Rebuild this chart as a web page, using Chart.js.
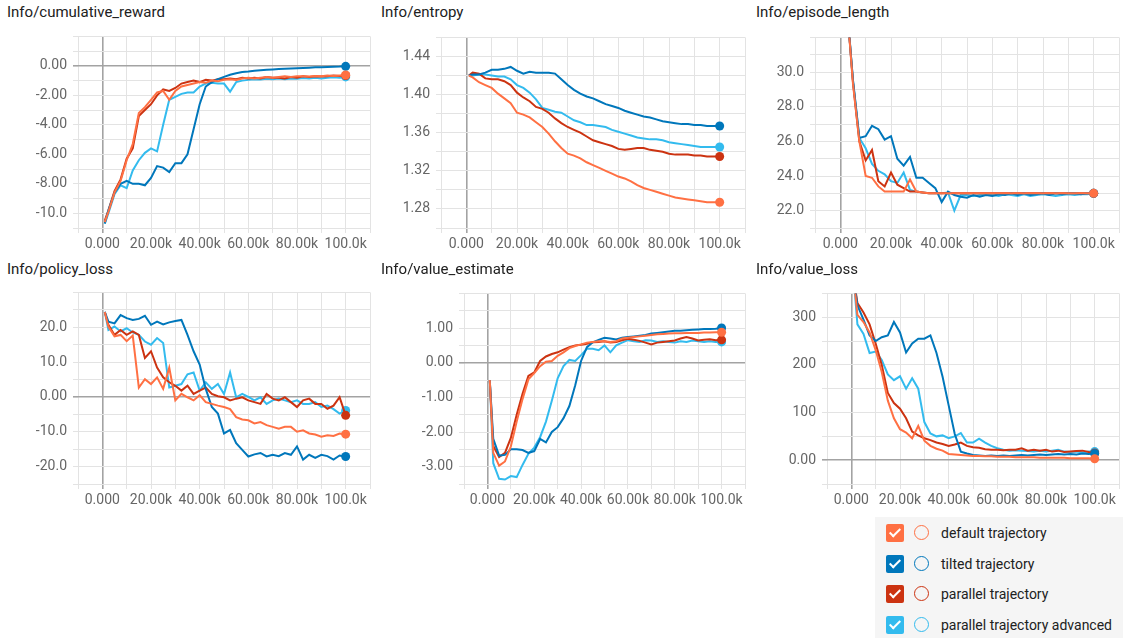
<!DOCTYPE html>
<html>
<head>
<meta charset="utf-8">
<script src="https://cdn.jsdelivr.net/npm/chart.js@4.4.1/dist/chart.umd.min.js"></script>
<style>
  body { margin: 0; width: 1123px; height: 638px; overflow: hidden; background: #fff; font-family: Roboto, "Noto Sans", sans-serif; }
  .title { position: absolute; font-size: 15px; line-height: 15px; color: #212121; white-space: nowrap; }
  canvas { position: absolute; }
  .legend { position: absolute; left: 875px; top: 517px; width: 248px; height: 121px; background: #f5f5f5; }
  .row { position: absolute; left: 0; height: 20px; width: 248px; }
  .box { position: absolute; left: 11px; top: 1px; width: 18px; height: 18px; border-radius: 2px; }
  .box::after { content: ''; position: absolute; left: 6px; top: 2px; width: 4px; height: 9px; border: solid #fff; border-width: 0 2px 2px 0; transform: rotate(45deg); }
  .ring { position: absolute; left: 39px; top: 2px; width: 13px; height: 13px; border-radius: 50%; border: 1.6px solid; }
  .label { position: absolute; left: 66px; top: 0; font-size: 14px; line-height: 20px; color: #212121; white-space: nowrap; }
</style>
</head>
<body>
<div class="legend" id="legend"></div>
<script>
// training steps of each logged point
const steps = [1000, 2500, 5000, 7500, 10000, 12500, 15000, 17500, 20000, 22500,
  25000, 27500, 30000, 32500, 35000, 37500, 40000, 42500, 45000, 47500,
  50000, 52500, 55000, 57500, 60000, 62500, 65000, 67500, 70000, 72500,
  75000, 77500, 80000, 82500, 85000, 87500, 90000, 92500, 95000, 97500, 100000];

const seriesNames = ['default trajectory', 'tilted trajectory', 'parallel trajectory', 'parallel trajectory advanced'];
const seriesColors = ['#ff7043', '#0077bb', '#cc3311', '#33bbee'];

const xTickValues = [0, 20000, 40000, 60000, 80000, 100000];
const xTickLabels = ['0.000', '20.00k', '40.00k', '60.00k', '80.00k', '100.0k'];

// Info/cumulative_reward
const rewardDefault = [-10.6, -9.9, -8.6, -7.8, -6.4, -5.3, -3.2, -2.8, -2.3, -1.8,
  -1.7, -2.3, -1.7, -1.4, -1.3, -1.2, -1.1, -1.15, -1.0, -1.05,
  -0.95, -0.9, -0.95, -0.85, -0.8, -0.85, -0.8, -0.75, -0.8, -0.75,
  -0.7, -0.75, -0.7, -0.7, -0.72, -0.68, -0.7, -0.66, -0.68, -0.65, -0.62];
const rewardTilted = [-10.7, -9.8, -8.6, -8.0, -7.8, -8.0, -8.0, -8.1, -7.6, -6.8,
  -6.9, -7.2, -6.6, -6.6, -6.0, -4.3, -2.6, -1.4, -1.1, -0.9,
  -0.75, -0.6, -0.5, -0.42, -0.38, -0.33, -0.3, -0.27, -0.24, -0.22,
  -0.2, -0.18, -0.16, -0.14, -0.12, -0.1, -0.09, -0.07, -0.06, -0.05, -0.03];
const rewardParallel = [-10.5, -9.8, -8.5, -7.7, -6.3, -5.6, -3.4, -3.0, -2.6, -2.0,
  -1.6, -1.7, -1.5, -1.2, -1.1, -1.0, -1.1, -0.95, -1.0, -0.9,
  -0.9, -0.85, -0.9, -0.8, -0.85, -0.8, -0.85, -0.75, -0.8, -0.8,
  -0.85, -0.75, -0.8, -0.7, -0.75, -0.7, -0.72, -0.7, -0.65, -0.68, -0.65];
const rewardAdvanced = [-10.7, -10.0, -8.7, -8.1, -8.3, -7.1, -6.4, -5.9, -5.6, -5.8,
  -4.0, -2.3, -2.1, -1.9, -1.8, -1.8, -1.4, -1.2, -1.15, -1.2,
  -1.2, -1.75, -1.1, -1.0, -0.95, -0.9, -0.92, -0.88, -0.9, -0.85,
  -0.9, -0.85, -0.88, -0.82, -0.85, -0.8, -0.85, -0.8, -0.78, -0.8, -0.75];
const rewardYTicks = [0, -2, -4, -6, -8, -10];
const rewardYLabels = ['0.00', '-2.00', '-4.00', '-6.00', '-8.00', '-10.0'];

// Info/entropy
const entropyDefault = [1.420, 1.418, 1.413, 1.410, 1.407, 1.401, 1.396, 1.391, 1.381, 1.379,
  1.376, 1.371, 1.366, 1.359, 1.351, 1.344, 1.338, 1.336, 1.333, 1.329,
  1.326, 1.323, 1.320, 1.317, 1.314, 1.312, 1.309, 1.305, 1.302, 1.300,
  1.298, 1.296, 1.294, 1.292, 1.291, 1.290, 1.289, 1.288, 1.287, 1.287, 1.287];
const entropyTilted = [1.420, 1.421, 1.421, 1.423, 1.426, 1.426, 1.427, 1.429, 1.425, 1.422,
  1.424, 1.423, 1.423, 1.423, 1.422, 1.416, 1.410, 1.405, 1.401, 1.398,
  1.396, 1.393, 1.390, 1.388, 1.386, 1.383, 1.381, 1.379, 1.377, 1.376,
  1.374, 1.372, 1.371, 1.370, 1.369, 1.369, 1.368, 1.368, 1.367, 1.367, 1.367];
const entropyParallel = [1.420, 1.423, 1.422, 1.417, 1.416, 1.416, 1.414, 1.410, 1.402, 1.397,
  1.393, 1.387, 1.385, 1.381, 1.375, 1.370, 1.366, 1.363, 1.360, 1.356,
  1.352, 1.350, 1.348, 1.346, 1.343, 1.342, 1.343, 1.344, 1.344, 1.342,
  1.341, 1.340, 1.338, 1.337, 1.337, 1.337, 1.336, 1.336, 1.335, 1.335, 1.335];
const entropyAdvanced = [1.420, 1.420, 1.421, 1.421, 1.420, 1.419, 1.419, 1.416, 1.410, 1.407,
  1.402, 1.395, 1.386, 1.384, 1.382, 1.381, 1.377, 1.373, 1.371, 1.368,
  1.368, 1.367, 1.366, 1.363, 1.361, 1.359, 1.357, 1.355, 1.354, 1.353,
  1.353, 1.352, 1.350, 1.349, 1.348, 1.347, 1.346, 1.345, 1.345, 1.345, 1.345];
const entropyYTicks = [1.28, 1.32, 1.36, 1.40, 1.44];
const entropyYLabels = ['1.28', '1.32', '1.36', '1.40', '1.44'];

// Info/episode_length
const episodeDefault = [38, 34, 29.3, 26.0, 24.0, 23.9, 23.4, 23.1, 23.1, 23.1,
  23.1, 23.8, 23.1, 23.05, 23.0, 23.0, 23.0, 23.0, 23.0, 23.0,
  23.0, 23.0, 23.0, 23.0, 23.0, 23.0, 23.0, 23.0, 23.0, 23.0,
  23.0, 23.0, 23.0, 23.0, 23.0, 23.0, 23.0, 23.0, 23.0, 23.0, 23.0];
const episodeTilted = [38, 34, 29.5, 26.2, 26.3, 26.9, 26.7, 26.1, 26.3, 25.0,
  24.6, 25.1, 23.9, 23.9, 23.6, 23.3, 22.5, 23.1, 22.9, 22.8,
  22.75, 22.9, 22.8, 22.9, 22.85, 22.95, 22.9, 23.0, 22.9, 23.0,
  22.9, 22.95, 23.0, 22.9, 23.0, 22.95, 23.0, 23.0, 22.95, 23.0, 23.0];
const episodeParallel = [38, 34, 29.4, 26.0, 24.9, 25.5, 23.7, 23.4, 24.2, 23.5,
  23.3, 23.1, 23.1, 23.05, 23.0, 23.0, 23.0, 23.0, 23.0, 23.0,
  23.0, 23.0, 23.0, 23.0, 23.0, 23.0, 23.0, 23.0, 23.0, 23.0,
  23.0, 23.0, 23.0, 23.0, 23.0, 23.0, 23.0, 23.0, 23.0, 23.0, 23.0];
const episodeAdvanced = [38, 34, 29.5, 26.2, 25.6, 24.7, 24.3, 24.1, 23.7, 23.6,
  24.2, 23.2, 23.1, 23.05, 23.0, 23.0, 23.0, 23.05, 22.0, 22.9,
  22.9, 22.85, 22.9, 22.95, 22.9, 22.85, 22.95, 22.9, 22.85, 22.95,
  22.85, 22.9, 22.95, 22.9, 22.85, 22.9, 22.95, 22.9, 22.95, 22.95, 23.0];
const episodeYTicks = [22, 24, 26, 28, 30];
const episodeYLabels = ['22.0', '24.0', '26.0', '28.0', '30.0'];

// Info/policy_loss
const policyDefault = [24.4, 20.2, 17.4, 17.8, 16.0, 17.6, 2.7, 5.1, 3.7, 5.6,
  2.3, 8.4, -1.0, 0.9, -0.1, -1.0, 0.5, -1.5, -2.0, -2.5,
  -2.9, -3.5, -5.8, -6.5, -6.7, -7.6, -7.2, -8.1, -8.6, -9.1,
  -8.6, -8.6, -10.0, -9.6, -10.5, -10.8, -11.4, -11.0, -11.2, -10.5, -10.7];
const policyTilted = [24.4, 21.6, 21.1, 23.5, 22.6, 22.1, 22.4, 23.3, 20.7, 21.6,
  20.8, 21.4, 21.8, 22.1, 17.8, 13.1, 9.3, 2.3, -2.9, -4.8,
  -10.5, -9.5, -13.3, -15.2, -17.1, -16.5, -16.1, -17.1, -16.6, -17.0,
  -16.1, -16.6, -14.2, -18.0, -16.6, -17.5, -16.6, -17.0, -18.0, -16.8, -17.1];
const policyParallel = [24.4, 20.7, 17.8, 19.2, 17.8, 18.8, 17.8, 11.2, 13.1, 8.4,
  5.6, 4.2, 3.2, 1.8, 3.2, 0.85, 1.8, 2.7, 0.85, 0.2,
  -0.1, -1.0, -0.5, -0.1, -1.0, -1.5, -2.0, 0.85, -0.5, -1.0,
  -0.1, -1.5, -2.9, -1.0, -0.5, -2.0, -2.0, -3.4, -2.5, -0.1, -5.3];
const policyAdvanced = [24.4, 19.2, 20.2, 18.8, 19.7, 18.5, 17.8, 15.9, 15.0, 16.9,
  15.5, 2.7, 3.2, 3.7, 6.5, 7.0, 1.8, 4.2, 2.3, 3.7,
  0.85, 7.0, -0.1, 0.85, 0.0, -1.0, -0.1, -2.0, -1.0, -0.5,
  -1.0, -1.5, -1.0, -2.0, -2.0, -1.5, -2.9, -2.5, -3.5, -4.8, -3.9];
const policyYTicks = [-20, -10, 0, 10, 20];
const policyYLabels = ['-20.0', '-10.0', '0.00', '10.0', '20.0'];

// Info/value_estimate
const estimateDefault = [-0.5, -2.6, -2.97, -2.85, -2.42, -1.7, -1.05, -0.48, -0.3, -0.1,
  0.03, 0.05, 0.2, 0.3, 0.42, 0.48, 0.53, 0.58, 0.6, 0.62,
  0.62, 0.6, 0.62, 0.7, 0.72, 0.74, 0.76, 0.78, 0.8, 0.82,
  0.83, 0.84, 0.85, 0.85, 0.86, 0.86, 0.86, 0.87, 0.87, 0.88, 0.88];
const estimateTilted = [-0.5, -2.2, -2.68, -2.66, -2.5, -2.5, -2.52, -2.6, -2.55, -2.2,
  -2.3, -2.0, -1.86, -1.6, -1.25, -0.65, 0.05, 0.45, 0.59, 0.66,
  0.72, 0.7, 0.67, 0.72, 0.74, 0.76, 0.78, 0.8, 0.84, 0.86,
  0.88, 0.9, 0.92, 0.92, 0.94, 0.95, 0.96, 0.97, 0.97, 0.98, 1.0];
const estimateParallel = [-0.5, -2.4, -2.72, -2.6, -2.17, -1.5, -0.9, -0.38, -0.28, 0.05,
  0.18, 0.25, 0.3, 0.38, 0.45, 0.5, 0.52, 0.55, 0.59, 0.6,
  0.62, 0.58, 0.6, 0.65, 0.69, 0.66, 0.63, 0.58, 0.53, 0.58,
  0.6, 0.62, 0.64, 0.7, 0.74, 0.7, 0.64, 0.66, 0.68, 0.65, 0.66];
const estimateAdvanced = [-0.5, -2.9, -3.35, -3.37, -3.27, -3.3, -2.95, -2.63, -2.45, -2.15,
  -1.7, -1.1, -0.45, -0.1, 0.08, 0.05, 0.22, 0.4, 0.4, 0.36,
  0.5, 0.3, 0.5, 0.58, 0.65, 0.62, 0.6, 0.65, 0.64, 0.6,
  0.62, 0.6, 0.58, 0.62, 0.6, 0.64, 0.62, 0.6, 0.62, 0.6, 0.6];
const estimateYTicks = [-3, -2, -1, 0, 1];
const estimateYLabels = ['-3.00', '-2.00', '-1.00', '0.00', '1.00'];

// Info/value_loss
const lossDefault = [380, 305, 290, 268, 231, 185, 125, 88, 65, 58,
  46, 72, 41, 30, 24, 20, 13, 12, 11, 10,
  9, 9, 8, 8, 7, 7, 7, 6, 6, 6,
  6, 5, 5, 5, 5, 5, 4, 4, 4, 4, 3];
const lossTilted = [380, 325, 295, 262, 250, 258, 262, 290, 268, 226,
  245, 255, 255, 262, 225, 175, 115, 55, 18, 14,
  11, 10, 9, 10, 9, 10, 9, 10, 11, 10,
  11, 12, 11, 12, 13, 12, 13, 12, 14, 13, 14];
const lossParallel = [380, 330, 310, 285, 245, 200, 141, 120, 108, 88,
  60, 52, 46, 42, 37, 34, 30, 33, 37, 30,
  27, 26, 23, 22, 22, 21, 22, 22, 25, 20,
  22, 20, 22, 18, 20, 17, 18, 19, 20, 17, 15];
const lossAdvanced = [380, 285, 265, 225, 228, 210, 180, 168, 176, 150,
  172, 150, 80, 56, 50, 52, 46, 50, 57, 37,
  37, 45, 37, 30, 25, 22, 20, 21, 20, 19,
  18, 20, 18, 20, 22, 18, 17, 18, 16, 18, 18];
const lossYTicks = [0, 100, 200, 300];
const lossYLabels = ['0.00', '100', '200', '300'];

const panels = [
  { title: 'Info/cumulative_reward', tx: 7, ty: 5, area: [78, 32, 370, 228], min: -11, max: 2, step: 1,
    yTicks: rewardYTicks, yLabels: rewardYLabels, series: [rewardDefault, rewardTilted, rewardParallel, rewardAdvanced] },
  { title: 'Info/entropy', tx: 381, ty: 5, area: [441, 33, 745, 228], min: 1.26, max: 1.46, step: 0.02,
    yTicks: entropyYTicks, yLabels: entropyYLabels, series: [entropyDefault, entropyTilted, entropyParallel, entropyAdvanced] },
  { title: 'Info/episode_length', tx: 756, ty: 5, area: [815, 33, 1119, 228], min: 21, max: 32, step: 1,
    yTicks: episodeYTicks, yLabels: episodeYLabels, series: [episodeDefault, episodeTilted, episodeParallel, episodeAdvanced] },
  { title: 'Info/policy_loss', tx: 7, ty: 262, area: [78, 288, 370, 484], min: -25, max: 30, step: 5,
    yTicks: policyYTicks, yLabels: policyYLabels, series: [policyDefault, policyTilted, policyParallel, policyAdvanced] },
  { title: 'Info/value_estimate', tx: 381, ty: 262, area: [464, 289, 745, 484], min: -3.5, max: 2, step: 0.5,
    yTicks: estimateYTicks, yLabels: estimateYLabels, series: [estimateDefault, estimateTilted, estimateParallel, estimateAdvanced] },
  { title: 'Info/value_loss', tx: 756, ty: 262, area: [827, 289, 1119, 484], min: -50, max: 350, step: 50,
    yTicks: lossYTicks, yLabels: lossYLabels, series: [lossDefault, lossTilted, lossParallel, lossAdvanced] }
];

const isZero = c => c.tick && Math.abs(c.tick.value) < 1e-9;
const gridOpts = {
  color: c => isZero(c) ? '#a3a3a3' : '#e3e3e3',
  lineWidth: c => isZero(c) ? 1.6 : 1,
  tickLength: 5
};
const tickFont = { family: 'Roboto', size: 14 };

panels.forEach(p => {
  const t = document.createElement('div');
  t.className = 'title';
  t.textContent = p.title;
  t.style.left = p.tx + 'px';
  t.style.top = p.ty + 'px';
  document.body.appendChild(t);

  const [l, top, r, b] = p.area;
  const yW = 78, xH = 26, padT = 10, padR = 6;
  const c = document.createElement('canvas');
  c.width = r + padR - (l - yW);
  c.height = b + xH - (top - padT);
  c.style.left = (l - yW) + 'px';
  c.style.top = (top - padT) + 'px';
  document.body.appendChild(c);

  new Chart(c, {
    type: 'line',
    data: {
      datasets: p.series.map((vals, si) => ({
        label: seriesNames[si],
        data: steps.map((s, i) => ({ x: s, y: vals[i] })),
        borderColor: seriesColors[si],
        backgroundColor: seriesColors[si],
        borderWidth: 2,
        tension: 0,
        fill: false,
        pointRadius: ctx => ctx.dataIndex === steps.length - 1 ? 4.5 : 0,
        pointBorderWidth: 0
      }))
    },
    options: {
      responsive: false,
      animation: false,
      events: [],
      layout: { padding: { top: padT, right: padR, left: 0, bottom: 0 } },
      plugins: { legend: { display: false }, tooltip: { enabled: false } },
      scales: {
        x: {
          type: 'linear', min: -10000, max: 110000,
          afterFit: s => { s.height = xH; },
          border: { display: false },
          grid: gridOpts,
          ticks: {
            stepSize: 10000, autoSkip: false, maxRotation: 0, padding: 3,
            color: '#666', font: tickFont,
            callback: v => {
              const i = xTickValues.indexOf(v);
              return i >= 0 ? xTickLabels[i] : '';
            }
          }
        },
        y: {
          type: 'linear', min: p.min, max: p.max,
          afterFit: s => { s.width = yW; },
          border: { display: false },
          grid: gridOpts,
          ticks: {
            stepSize: p.step, autoSkip: false, padding: 6,
            color: '#666', font: tickFont,
            callback: v => {
              const i = p.yTicks.findIndex(t => Math.abs(t - v) < 1e-6);
              return i >= 0 ? p.yLabels[i] : '';
            }
          }
        }
      }
    }
  });
});

// legend box
const legend = document.getElementById('legend');
seriesNames.forEach((name, i) => {
  const row = document.createElement('div');
  row.className = 'row';
  row.style.top = (6 + i * 30.6) + 'px';
  row.innerHTML = '<span class="box" style="background:' + seriesColors[i] + '"></span>' +
    '<span class="ring" style="border-color:' + seriesColors[i] + '"></span>' +
    '<span class="label"></span>';
  row.querySelector('.label').textContent = name;
  legend.appendChild(row);
});
</script>
</body>
</html>
